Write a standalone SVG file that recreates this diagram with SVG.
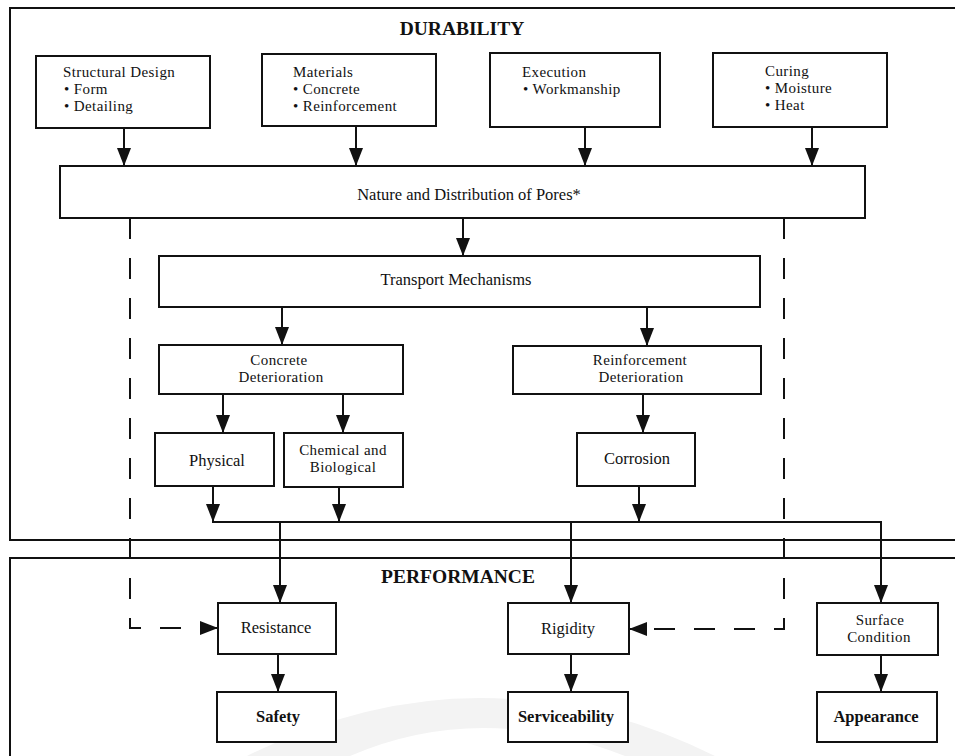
<svg xmlns="http://www.w3.org/2000/svg" width="955" height="756" viewBox="0 0 955 756">
<defs>
<marker id="ah" markerUnits="userSpaceOnUse" markerWidth="18" markerHeight="14" refX="18" refY="7" orient="auto">
<path d="M0,0 L18,7 L0,14 Z" fill="#111"/>
</marker>
<style>
text{font-family:"Liberation Serif","Times New Roman",serif;font-size:16.5px;fill:#111}
.m{font-size:15px;letter-spacing:0.4px}
.c{text-anchor:middle}
.b{font-weight:bold}
.t{font-weight:bold;font-size:19.5px;text-anchor:middle}
.box{fill:#fff;stroke:#111;stroke-width:2}
.frame{fill:none;stroke:#111;stroke-width:2}
.ln{fill:none;stroke:#111;stroke-width:2}
.ar{fill:none;stroke:#111;stroke-width:2;marker-end:url(#ah)}
.da{fill:none;stroke:#111;stroke-width:2;stroke-dasharray:21 19;marker-end:url(#ah)}
</style>
</defs>
<rect width="955" height="756" fill="#fff"/>
<path d="M247,756 Q480,640 715,756 L625,756 Q480,700 350,756 Z" fill="#f3f3f3"/>

<g id="durability-frame">
<rect class="frame" x="10" y="8" width="952" height="532"/>
<text class="t" x="462" y="35">DURABILITY</text>
</g>
<g id="performance-frame">
<rect class="frame" x="10" y="558" width="952" height="210"/>
<text class="t" x="458" y="583">PERFORMANCE</text>
</g>

<g id="connectors">
<line class="ar" x1="124" y1="128" x2="124" y2="166"/>
<line class="ar" x1="356" y1="126" x2="356" y2="166"/>
<line class="ar" x1="585" y1="127" x2="585" y2="166"/>
<line class="ar" x1="812" y1="127" x2="812" y2="166"/>
<line class="ar" x1="463" y1="218" x2="463" y2="256"/>
<line class="ar" x1="282" y1="307" x2="282" y2="345"/>
<line class="ar" x1="647" y1="307" x2="647" y2="346"/>
<line class="ar" x1="223" y1="394" x2="223" y2="433"/>
<line class="ar" x1="343" y1="394" x2="343" y2="433"/>
<line class="ar" x1="643" y1="394" x2="643" y2="433"/>
<line class="ar" x1="213" y1="486" x2="213" y2="522"/>
<line class="ar" x1="339" y1="487" x2="339" y2="522"/>
<line class="ar" x1="639" y1="486" x2="639" y2="522"/>
<line class="ln" x1="212" y1="522" x2="882" y2="522"/>
<line class="ar" x1="280" y1="522" x2="280" y2="603"/>
<line class="ar" x1="571" y1="522" x2="571" y2="603"/>
<line class="ar" x1="881" y1="521" x2="881" y2="603"/>
<line class="ar" x1="278" y1="654" x2="278" y2="692"/>
<line class="ar" x1="571" y1="654" x2="571" y2="692"/>
<line class="ar" x1="881" y1="655" x2="881" y2="692"/>
<path class="da" d="M130,218 L130,628 L218,628"/>
<path class="da" d="M784,218 L784,629 L629,629"/>
</g>

<g id="structural-design">
<rect class="box" x="36" y="56" width="174" height="72"/>
<text class="m" x="63" y="77">Structural Design</text>
<text class="m" x="64" y="94">• Form</text>
<text class="m" x="64" y="111">• Detailing</text>
</g>
<g id="materials">
<rect class="box" x="262" y="54" width="174" height="72"/>
<text class="m" x="293" y="77">Materials</text>
<text class="m" x="293" y="94">• Concrete</text>
<text class="m" x="293" y="111">• Reinforcement</text>
</g>
<g id="execution">
<rect class="box" x="490" y="53" width="170" height="74"/>
<text class="m" x="522" y="77">Execution</text>
<text class="m" x="523" y="94">• Workmanship</text>
</g>
<g id="curing">
<rect class="box" x="713" y="53" width="174" height="74"/>
<text class="m" x="765" y="76">Curing</text>
<text class="m" x="765" y="93">• Moisture</text>
<text class="m" x="765" y="110">• Heat</text>
</g>
<g id="pores">
<rect class="box" x="60" y="166" width="805" height="52"/>
<text class="c" x="469" y="200">Nature and Distribution of Pores*</text>
</g>
<g id="transport">
<rect class="box" x="159" y="256" width="601" height="51"/>
<text class="c" x="456" y="285">Transport Mechanisms</text>
</g>
<g id="concrete-deterioration">
<rect class="box" x="159" y="345" width="244" height="49"/>
<text class="c m" x="279" y="365">Concrete</text>
<text class="c m" x="281" y="382">Deterioration</text>
</g>
<g id="reinforcement-deterioration">
<rect class="box" x="513" y="346" width="248" height="48"/>
<text class="c m" x="640" y="365">Reinforcement</text>
<text class="c m" x="641" y="382">Deterioration</text>
</g>
<g id="physical">
<rect class="box" x="155" y="433" width="119" height="53"/>
<text class="c" x="217" y="466">Physical</text>
</g>
<g id="chemical-biological">
<rect class="box" x="284" y="433" width="119" height="54"/>
<text class="c m" x="343" y="455">Chemical and</text>
<text class="c m" x="343" y="472">Biological</text>
</g>
<g id="corrosion">
<rect class="box" x="577" y="433" width="118" height="53"/>
<text class="c" x="637" y="464">Corrosion</text>
</g>
<g id="resistance">
<rect class="box" x="218" y="603" width="118" height="51"/>
<text class="c" x="276" y="633">Resistance</text>
</g>
<g id="rigidity">
<rect class="box" x="508" y="603" width="121" height="51"/>
<text class="c" x="568" y="634">Rigidity</text>
</g>
<g id="surface-condition">
<rect class="box" x="817" y="603" width="121" height="52"/>
<text class="c m" x="880" y="625">Surface</text>
<text class="c m" x="879" y="642">Condition</text>
</g>
<g id="safety">
<rect class="box" x="217" y="692" width="119" height="50"/>
<text class="c b" x="278" y="722">Safety</text>
</g>
<g id="serviceability">
<rect class="box" x="508" y="692" width="120" height="50"/>
<text class="c b" x="566" y="722">Serviceability</text>
</g>
<g id="appearance">
<rect class="box" x="817" y="692" width="120" height="50"/>
<text class="c b" x="876" y="722">Appearance</text>
</g>
</svg>
